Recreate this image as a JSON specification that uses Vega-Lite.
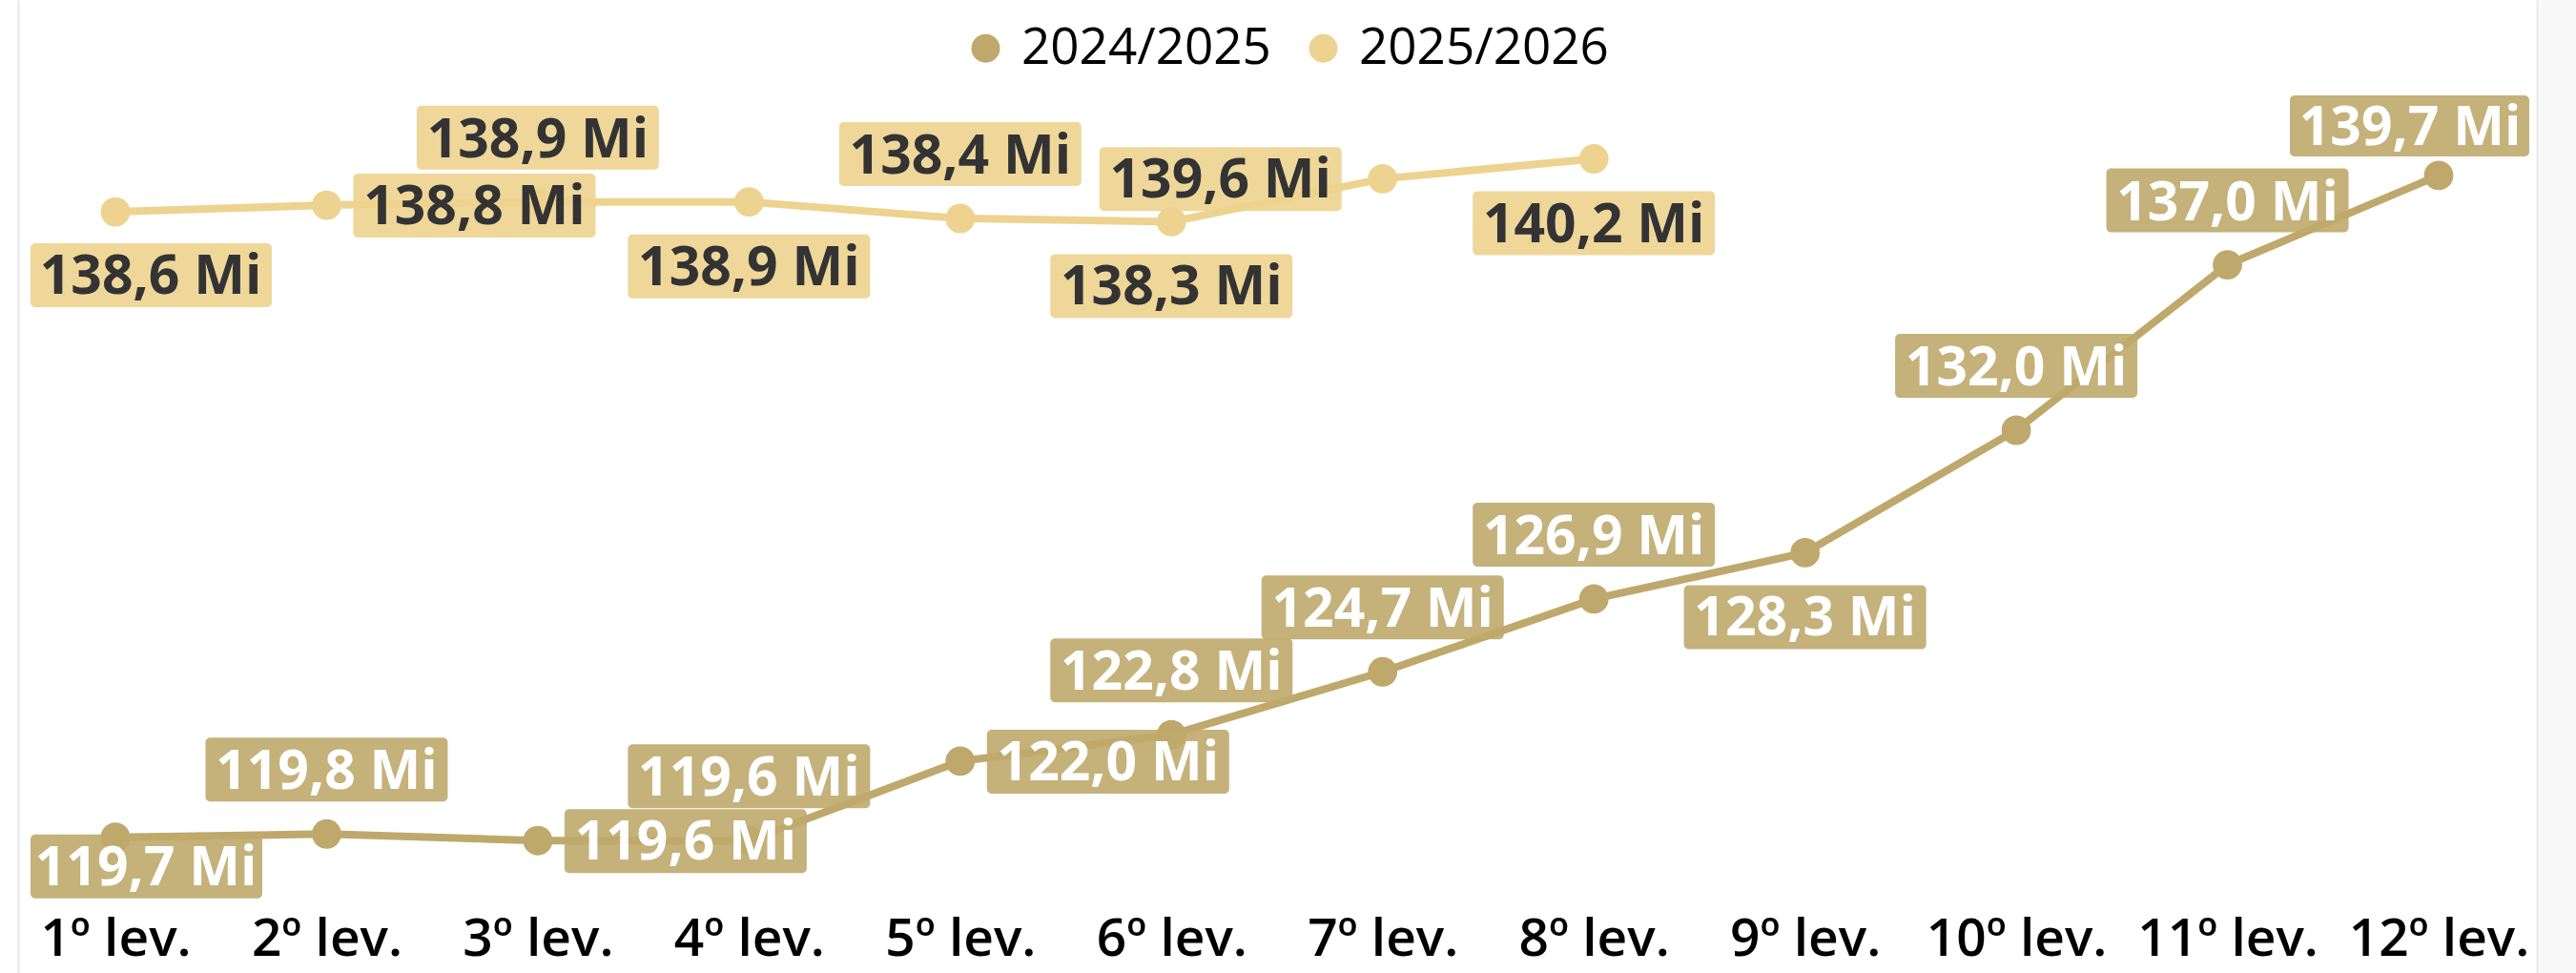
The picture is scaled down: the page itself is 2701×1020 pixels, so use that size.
{
  "$schema": "https://vega.github.io/schema/vega-lite/v6.json",
  "width": 2660,
  "height": 1020,
  "autosize": {"type": "none"},
  "padding": {"left": 0, "top": 0, "right": 41, "bottom": 0},
  "background": "#f9f9f9",
  "config": {"view": {"fill": "white", "stroke": null}, "font": "Open Sans"},
  "data": {
    "values": [
      {"s": "2024/2025", "nivel": "1º lev.", "v": 119.7},
      {"s": "2024/2025", "nivel": "2º lev.", "v": 119.8},
      {"s": "2024/2025", "nivel": "3º lev.", "v": 119.6},
      {"s": "2024/2025", "nivel": "4º lev.", "v": 119.6},
      {"s": "2024/2025", "nivel": "5º lev.", "v": 122.0},
      {"s": "2024/2025", "nivel": "6º lev.", "v": 122.8},
      {"s": "2024/2025", "nivel": "7º lev.", "v": 124.7},
      {"s": "2024/2025", "nivel": "8º lev.", "v": 126.9},
      {"s": "2024/2025", "nivel": "9º lev.", "v": 128.3},
      {"s": "2024/2025", "nivel": "10º lev.", "v": 132.0},
      {"s": "2024/2025", "nivel": "11º lev.", "v": 137.0},
      {"s": "2024/2025", "nivel": "12º lev.", "v": 139.7},
      {"s": "2025/2026", "nivel": "1º lev.", "v": 138.6},
      {"s": "2025/2026", "nivel": "2º lev.", "v": 138.8},
      {"s": "2025/2026", "nivel": "3º lev.", "v": 138.9},
      {"s": "2025/2026", "nivel": "4º lev.", "v": 138.9},
      {"s": "2025/2026", "nivel": "5º lev.", "v": 138.4},
      {"s": "2025/2026", "nivel": "6º lev.", "v": 138.3},
      {"s": "2025/2026", "nivel": "7º lev.", "v": 139.6},
      {"s": "2025/2026", "nivel": "8º lev.", "v": 140.2}
    ]
  },
  "transform": [
    {"calculate": "replace(format(datum.v, '.1f'), '.', ',') + ' Mi'", "as": "label"}
  ],
  "encoding": {
    "x": {
      "field": "nivel",
      "type": "nominal",
      "sort": ["1º lev.", "2º lev.", "3º lev.", "4º lev.", "5º lev.", "6º lev.", "7º lev.", "8º lev.", "9º lev.", "10º lev.", "11º lev.", "12º lev."],
      "scale": {"type": "point", "range": [121, 2557], "padding": 0},
      "axis": {
        "orient": "bottom",
        "offset": -19,
        "title": null,
        "domain": false,
        "ticks": false,
        "tickSize": 0,
        "grid": false,
        "labelAngle": 0,
        "labelPadding": 0,
        "labelBaseline": "alphabetic",
        "labelFont": "Open Sans",
        "labelFontSize": 55,
        "labelFontWeight": 600,
        "labelColor": "#000000",
        "labelOverlap": false,
        "labelLimit": 400
      }
    },
    "y": {
      "field": "v",
      "type": "quantitative",
      "scale": {"domain": [115.6, 145.0], "zero": false, "nice": false},
      "axis": null
    }
  },
  "resolve": {"axis": {"y": "independent"}},
  "layer": [
    {
      "mark": {"type": "point", "filled": true, "size": 950, "opacity": 1},
      "encoding": {
        "y": {
          "field": "v",
          "type": "quantitative",
          "scale": {"domain": [115.6, 145.0], "zero": false, "nice": false},
          "axis": {"orient": "left", "offset": -19, "domainColor": "#e6e6e6", "domainWidth": 2, "labels": false, "ticks": false, "grid": false, "title": null}
        },
        "color": {
          "field": "s",
          "type": "nominal",
          "scale": {"domain": ["2024/2025", "2025/2026"], "range": ["#bfa86b", "#edd38f"]},
          "legend": {
            "orient": "none",
            "legendX": 1007,
            "legendY": 24,
            "direction": "horizontal",
            "title": null,
            "labelFontSize": 53,
            "labelFont": "Open Sans",
            "labelColor": "#000000",
            "labelLimit": 600,
            "symbolType": "circle",
            "symbolSize": 900,
            "labelOffset": 11,
            "columnPadding": 28,
            "padding": 0,
            "symbolStrokeWidth": 0,
            "symbolOpacity": 1
          }
        }
      }
    },
    {
      "mark": {"type": "line", "strokeWidth": 8},
      "encoding": {
        "y": {
          "field": "v",
          "type": "quantitative",
          "scale": {"domain": [115.6, 145.0], "zero": false, "nice": false},
          "axis": {"orient": "right", "domainColor": "#e9e9e9", "domainWidth": 2, "labels": false, "ticks": false, "grid": false, "title": null}
        },
        "color": {
          "field": "s",
          "type": "nominal",
          "scale": {"domain": ["2024/2025", "2025/2026"], "range": ["#bfa86b", "#edd38f"]},
          "legend": {
            "orient": "none",
            "legendX": 1007,
            "legendY": 24,
            "direction": "horizontal",
            "title": null,
            "labelFontSize": 53,
            "labelFont": "Open Sans",
            "labelColor": "#000000",
            "labelLimit": 600,
            "symbolType": "circle",
            "symbolSize": 900,
            "labelOffset": 11,
            "columnPadding": 28,
            "padding": 0,
            "symbolStrokeWidth": 0,
            "symbolOpacity": 1
          }
        }
      }
    },
    {
      "transform": [{"filter": "(datum.s === '2025/2026' && indexof(['3º lev.', '5º lev.'], datum.nivel) >= 0) || (datum.s === '2024/2025' && indexof(['2º lev.', '4º lev.', '6º lev.', '7º lev.', '8º lev.', '10º lev.', '11º lev.'], datum.nivel) >= 0)"}],
      "layer": [
        {
          "mark": {"type": "rect", "xOffset": -127, "x2Offset": 127, "yOffset": -101, "y2Offset": -34, "cornerRadius": 5, "opacity": 0.9},
          "encoding": {
            "x2": {"field": "nivel"},
            "y2": {"field": "v"},
            "color": {"condition": {"test": "datum.s === '2024/2025'", "value": "#bfa86b"}, "value": "#edd38f"}
          }
        },
        {
          "mark": {"type": "text", "dx": 0, "dy": -47, "fontSize": 57, "fontWeight": "bold", "font": "Open Sans", "align": "center", "baseline": "alphabetic"},
          "encoding": {
            "text": {"field": "label"},
            "color": {"condition": {"test": "datum.s === '2024/2025'", "value": "#ffffff"}, "value": "#333333"}
          }
        }
      ]
    },
    {
      "transform": [{"filter": "(datum.s === '2025/2026' && indexof(['4º lev.', '6º lev.', '8º lev.'], datum.nivel) >= 0) || (datum.s === '2024/2025' && datum.nivel === '9º lev.')"}],
      "layer": [
        {
          "mark": {"type": "rect", "xOffset": -127, "x2Offset": 127, "yOffset": 34, "y2Offset": 101, "cornerRadius": 5, "opacity": 0.9},
          "encoding": {
            "x2": {"field": "nivel"},
            "y2": {"field": "v"},
            "color": {"condition": {"test": "datum.s === '2024/2025'", "value": "#bfa86b"}, "value": "#edd38f"}
          }
        },
        {
          "mark": {"type": "text", "dx": 0, "dy": 87, "fontSize": 57, "fontWeight": "bold", "font": "Open Sans", "align": "center", "baseline": "alphabetic"},
          "encoding": {
            "text": {"field": "label"},
            "color": {"condition": {"test": "datum.s === '2024/2025'", "value": "#ffffff"}, "value": "#333333"}
          }
        }
      ]
    },
    {
      "transform": [{"filter": "(datum.s === '2025/2026' && datum.nivel === '2º lev.') || (datum.s === '2024/2025' && indexof(['3º lev.', '5º lev.'], datum.nivel) >= 0)"}],
      "layer": [
        {
          "mark": {"type": "rect", "xOffset": 28, "x2Offset": 282, "yOffset": -33, "y2Offset": 34, "cornerRadius": 5, "opacity": 0.9},
          "encoding": {
            "x2": {"field": "nivel"},
            "y2": {"field": "v"},
            "color": {"condition": {"test": "datum.s === '2024/2025'", "value": "#bfa86b"}, "value": "#edd38f"}
          }
        },
        {
          "mark": {"type": "text", "dx": 155, "dy": 20, "fontSize": 57, "fontWeight": "bold", "font": "Open Sans", "align": "center", "baseline": "alphabetic"},
          "encoding": {
            "text": {"field": "label"},
            "color": {"condition": {"test": "datum.s === '2024/2025'", "value": "#ffffff"}, "value": "#333333"}
          }
        }
      ]
    },
    {
      "transform": [{"filter": "datum.s === '2025/2026' && datum.nivel === '7º lev.'"}],
      "layer": [
        {
          "mark": {"type": "rect", "xOffset": -297, "x2Offset": -43, "yOffset": -33, "y2Offset": 34, "cornerRadius": 5, "opacity": 0.9},
          "encoding": {
            "x2": {"field": "nivel"},
            "y2": {"field": "v"},
            "color": {"value": "#edd38f"}
          }
        },
        {
          "mark": {"type": "text", "dx": -170, "dy": 20, "fontSize": 57, "fontWeight": "bold", "font": "Open Sans", "align": "center", "baseline": "alphabetic"},
          "encoding": {
            "text": {"field": "label"},
            "color": {"value": "#333333"}
          }
        }
      ]
    },
    {
      "transform": [{"filter": "datum.s === '2025/2026' && datum.nivel === '1º lev.'"}],
      "layer": [
        {
          "mark": {"type": "rect", "xOffset": -89, "x2Offset": 164, "yOffset": 33, "y2Offset": 100, "cornerRadius": 5, "opacity": 0.9},
          "encoding": {
            "x2": {"field": "nivel"},
            "y2": {"field": "v"},
            "color": {"value": "#edd38f"}
          }
        },
        {
          "mark": {"type": "text", "dx": 37, "dy": 86, "fontSize": 57, "fontWeight": "bold", "font": "Open Sans", "align": "center", "baseline": "alphabetic"},
          "encoding": {
            "text": {"field": "label"},
            "color": {"value": "#333333"}
          }
        }
      ]
    },
    {
      "transform": [{"filter": "datum.s === '2024/2025' && datum.nivel === '1º lev.'"}],
      "layer": [
        {
          "mark": {"type": "rect", "xOffset": -89, "x2Offset": 154, "yOffset": -3, "y2Offset": 64, "cornerRadius": 5, "opacity": 0.9},
          "encoding": {
            "x2": {"field": "nivel"},
            "y2": {"field": "v"},
            "color": {"value": "#bfa86b"}
          }
        },
        {
          "mark": {"type": "text", "dx": 32, "dy": 50, "fontSize": 57, "fontWeight": "bold", "font": "Open Sans", "align": "center", "baseline": "alphabetic"},
          "encoding": {
            "text": {"field": "label"},
            "color": {"value": "#ffffff"}
          }
        }
      ]
    },
    {
      "transform": [{"filter": "datum.s === '2024/2025' && datum.nivel === '12º lev.'"}],
      "layer": [
        {
          "mark": {"type": "rect", "xOffset": -156, "x2Offset": 95, "yOffset": -84, "y2Offset": -20, "cornerRadius": 5, "opacity": 0.9},
          "encoding": {
            "x2": {"field": "nivel"},
            "y2": {"field": "v"},
            "color": {"value": "#bfa86b"}
          }
        },
        {
          "mark": {"type": "text", "dx": -30, "dy": -32, "fontSize": 57, "fontWeight": "bold", "font": "Open Sans", "align": "center", "baseline": "alphabetic"},
          "encoding": {
            "text": {"field": "label"},
            "color": {"value": "#ffffff"}
          }
        }
      ]
    }
  ]
}
